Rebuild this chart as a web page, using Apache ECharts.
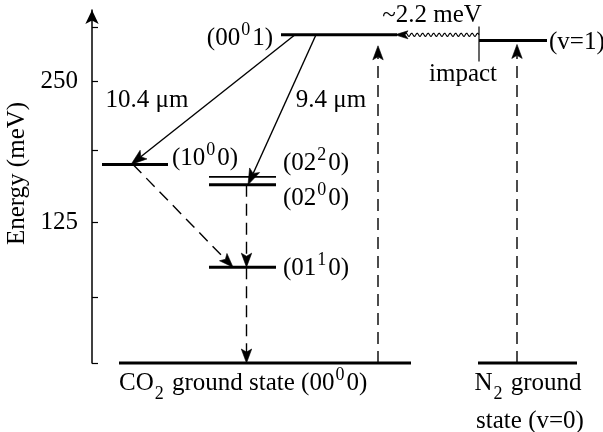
<!DOCTYPE html>
<html>
<head>
<meta charset="utf-8">
<script src="https://cdn.jsdelivr.net/npm/echarts@6/dist/echarts.min.js"></script>
<style>
  html, body { margin: 0; padding: 0; background: #fff; }
  #chart { width: 603px; height: 432px; }
</style>
</head>
<body>
<div id="chart"></div>
<script>
// ---- Energy levels of the CO2 / N2 laser system (meV) ----
const levelNames  = ['(00⁰1)', '(10⁰0)', '(02²0)', '(02⁰0)', '(01¹0)', 'CO2 ground', 'N2 (v=1)', 'N2 ground'];
const levelEnergy = [291, 176, 165, 158, 85, 0, 286, 0];

// ---- Axis ticks and labels (meV) ----
const tickValues  = [0, 58, 125, 189, 250, 298];
const tickLabels  = [125, 250];

// ---- Transitions: level index at each end ----
const transNames     = ['10.4 μm', '9.4 μm', '(10⁰0)→(01¹0)', '(02⁰0)→(01¹0)', '(01¹0)→ground', 'CO2 pump', 'N2 pump', 'N2→CO2 transfer'];
const transFromLevel = [0, 0, 1, 3, 4, 5, 7, 0];   // transfer arrow runs along the (00⁰1) line
const transToLevel   = [1, 3, 4, 4, 5, 0, 6, 0];
const transKind      = ['solid', 'solid', 'dash', 'dash', 'dash', 'dash', 'dash', 'wave'];

// ---- Text annotations ----
const labelTexts = [
  '(00{sup|0}1)', '10.4 μm', '9.4 μm', '~2.2 meV', 'impact', '(v=1)',
  '(10{sup|0}0)', '(02{sup|2}0)', '(02{sup|0}0)', '(01{sup|1}0)',
  'CO{sub|2} ground state (00{sup|0}0)', 'N{sub|2} ground', 'state (v=0)'
];

// ---- Layout (horizontal placement along a hidden x axis, label anchors, styles) ----
const layout = {
  levelFrom:  [189, 10, 117, 117, 117, 27, 387, 386],
  levelTo:    [305, 76, 184, 184, 184, 319, 455, 485],
  levelWidth: [3, 3, 1.8, 3, 3, 3, 3, 3],
  impactBar:  { level: 6, up: 14, down: 21 },        // px around the N2 (v=1) left end
  transX0:    [203, 224, 41, 154.5, 154.5, 286, 425, 387],
  transX1:    [39, 156, 141, 154.5, 154.5, 286, 425, 303],
  transGap:   [0, 0, 0, 0, 0, 11, 4, 0],             // px left before the head tip
  labelAt: [[181, 288.2], [55, 233.2], [239, 233.2], [340, 308.6], [371, 256.3], [457, 284.6],
            [80, 181.8], [191, 177.3], [191, 146.3], [191, 84.2],
            [27, -17.7], [436, -17.7], [438, -51.4]],
  labelAlign: ['right', 'center', 'center', 'center', 'center', 'left',
               'left', 'left', 'left', 'left', 'left', 'center', 'center']
};

const FONT = 'Liberation Serif';
const FS = 25;
const RICH = {
  sup: { fontFamily: FONT, fontSize: 18, fill: '#000', color: '#000', padding: [0, 2, 16, 1] },
  sub: { fontFamily: FONT, fontSize: 18, fill: '#000', color: '#000', padding: [22, 2, 0, 1] }
};

function arrowElements(p0, p1, kind, gap) {
  const dx = p1[0] - p0[0], dy = p1[1] - p0[1];
  const len = Math.hypot(dx, dy);
  const ux = dx / len, uy = dy / len;
  const nx = -uy, ny = ux;
  const tip = [p1[0] - ux * gap, p1[1] - uy * gap];
  const L = kind === 'solid' ? 16 : (kind === 'wave' ? 13 : 14);
  const W = kind === 'solid' ? 5.5 : (kind === 'wave' ? 4 : 5.2);
  const notch = L * 0.78;
  const base = [tip[0] - ux * notch, tip[1] - uy * notch];
  const head = {
    type: 'polygon',
    shape: { points: [tip,
      [tip[0] - ux * L + nx * W, tip[1] - uy * L + ny * W],
      base,
      [tip[0] - ux * L - nx * W, tip[1] - uy * L - ny * W]] },
    style: { fill: '#000', stroke: '#000', lineWidth: 0.6 }
  };
  let body;
  if (kind === 'wave') {
    const pts = [];
    const d = Math.hypot(base[0] - p0[0], base[1] - p0[1]);
    for (let s = 0; s <= d; s += 0.5) {
      const off = 1.6 * Math.sin(2 * Math.PI * s / 5.5);
      pts.push([p0[0] + ux * s + nx * off, p0[1] + uy * s + ny * off]);
    }
    body = { type: 'polyline', shape: { points: pts }, style: { stroke: '#000', lineWidth: 1.1, fill: null } };
  } else {
    body = {
      type: 'line',
      shape: { x1: p0[0], y1: p0[1], x2: base[0], y2: base[1] },
      style: { stroke: '#000', lineWidth: 1.4, lineDash: kind === 'dash' ? [12, 7] : null }
    };
  }
  return [body, head];
}

const chart = echarts.init(document.getElementById('chart'));
chart.setOption({
  animation: false,
  backgroundColor: '#fff',
  textStyle: { fontFamily: FONT },
  grid: { left: 92, right: 0, top: 10, bottom: 69, outerBoundsMode: 'none' },
  xAxis: { type: 'value', min: 0, max: 511, show: false },
  yAxis: {
    type: 'value', min: 0, max: 313,
    name: 'Energy (meV)', nameLocation: 'middle', nameRotate: 90, nameGap: 60,
    nameTextStyle: { fontFamily: FONT, fontSize: FS, color: '#000', padding: [0, 0, 0, 26] },
    axisLine: { show: true, symbol: ['none', 'arrow'], symbolSize: [10, 14],
                lineStyle: { color: '#000', width: 1.5 } },
    axisTick: { show: true, inside: true, length: 6, customValues: tickValues,
                lineStyle: { color: '#000', width: 1.2 } },
    axisLabel: { show: true, customValues: tickLabels, margin: 14,
                 fontFamily: FONT, fontSize: FS, color: '#000' },
    splitLine: { show: false }
  },
  series: [
    {
      name: 'levels', type: 'custom', clip: false, silent: true,
      data: levelEnergy.map((e, i) => [layout.levelFrom[i], e, layout.levelTo[i], i]),
      encode: { x: [0, 2], y: 1 },
      renderItem(params, api) {
        const i = api.value(3);
        const a = api.coord([api.value(0), api.value(1)]);
        const b = api.coord([api.value(2), api.value(1)]);
        const children = [{
          type: 'line', shape: { x1: a[0], y1: a[1], x2: b[0], y2: b[1] },
          style: { stroke: '#000', lineWidth: layout.levelWidth[i] }
        }];
        if (i === layout.impactBar.level) {
          children.push({
            type: 'line',
            shape: { x1: a[0], y1: a[1] - layout.impactBar.up, x2: a[0], y2: a[1] + layout.impactBar.down },
            style: { stroke: '#000', lineWidth: 1.2 }
          });
        }
        return { type: 'group', children };
      }
    },
    {
      name: 'transitions', type: 'custom', clip: false, silent: true,
      data: transNames.map((n, i) => [layout.transX0[i], levelEnergy[transFromLevel[i]],
                                      layout.transX1[i], levelEnergy[transToLevel[i]], i]),
      encode: { x: [0, 2], y: [1, 3] },
      renderItem(params, api) {
        const i = api.value(4);
        const p0 = api.coord([api.value(0), api.value(1)]);
        const p1 = api.coord([api.value(2), api.value(3)]);
        return { type: 'group', children: arrowElements(p0, p1, transKind[i], layout.transGap[i]) };
      }
    },
    {
      name: 'labels', type: 'custom', clip: false, silent: true,
      data: labelTexts.map((t, i) => [layout.labelAt[i][0], layout.labelAt[i][1], i]),
      encode: { x: 0, y: 1 },
      renderItem(params, api) {
        const i = api.value(2);
        const p = api.coord([api.value(0), api.value(1)]);
        return {
          type: 'text', x: p[0], y: p[1],
          style: {
            text: labelTexts[i], align: layout.labelAlign[i], verticalAlign: 'middle',
            fontFamily: FONT, fontSize: FS, fill: '#000', rich: RICH
          }
        };
      }
    }
  ]
});
</script>
</body>
</html>
